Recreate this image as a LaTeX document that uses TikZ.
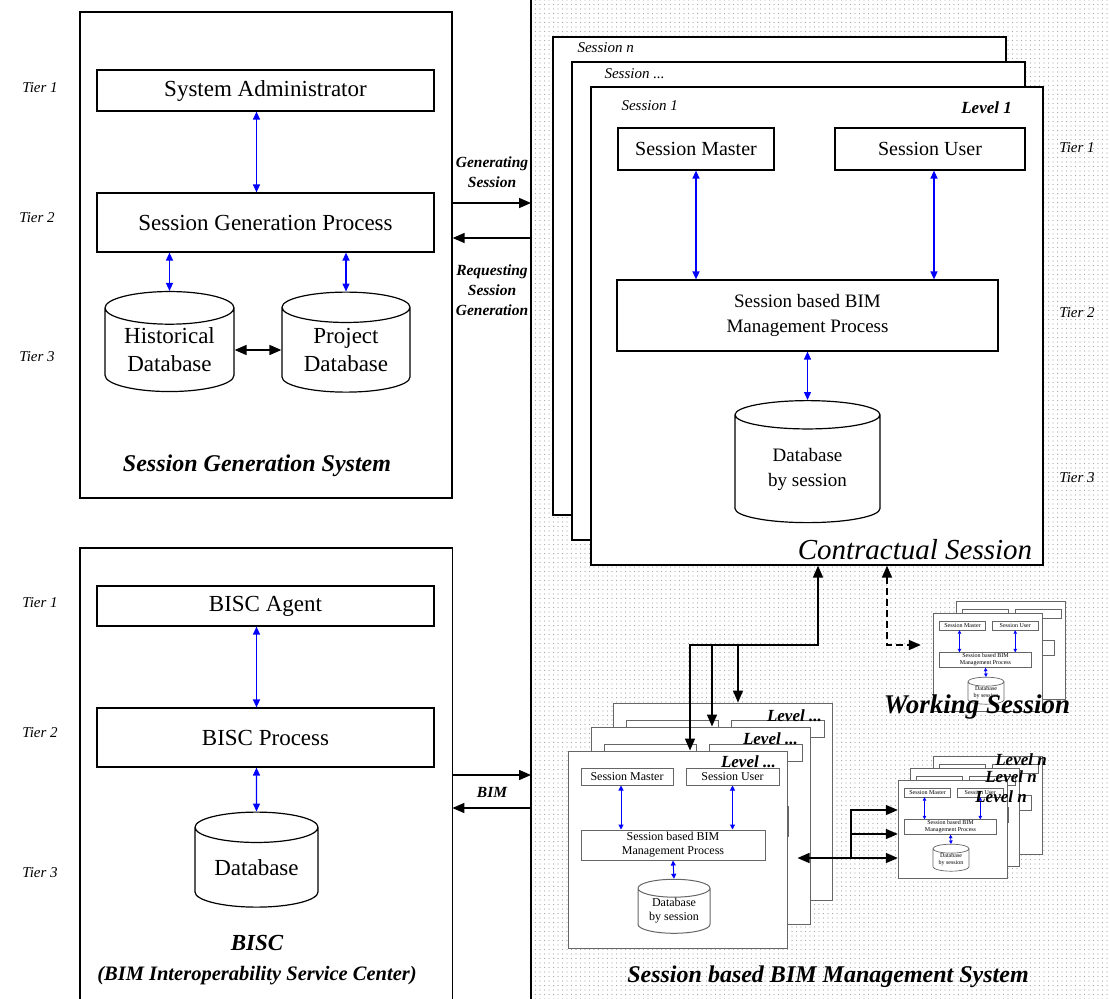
\documentclass[tikz,border=0pt]{standalone}
\usepackage{fontspec}
\setmainfont{Liberation Serif}
\usetikzlibrary{arrows.meta,shapes.geometric,patterns.meta,calc}

\newcommand{\fs}[2]{\fontsize{#1}{#2}\selectfont}
\newcommand{\lvlshow}[1]{#1}
\newcommand{\lvlhide}[1]{}
% one level box of a session, top left corner at #2, scaled by #3
\newcommand{\lvlbox}[5]{%
  \begin{scope}[shift={#2},scale=#3,transform shape,lvlline/.style={line width=#4}]
    \node[lvlframe] (#1) at (109.5,98.5) {};
    \node[lvlcell] (#1-sm) at (59,25.5) {#5{Session Master}};
    \node[lvlcell, minimum width=93pt] (#1-su) at (164.5,25.5) {#5{Session User}};
    \node[lvlcell, minimum width=184pt, minimum height=30pt] (#1-proc) at (105,94)
      {#5{Session based BIM\\Management Process}};
    \node[lvldb] (#1-db) at (106,160) {#5{Database\\by session}};
    \draw[lvlarr] ([xshift=-6pt]#1-sm.south) -- ([xshift=-6pt]#1-sm.south |- #1-proc.north);
    \draw[lvlarr] (#1-su.south) -- (#1-su.south |- #1-proc.north);
    \draw[lvlarr] (#1-proc.south) -- (#1-db.north);
  \end{scope}}

\begin{document}
\begin{tikzpicture}[x=1pt,y=-1pt,
    frame/.style={draw, line width=1.3pt, fill=white, inner sep=0pt},
    cell/.style={draw, line width=1.2pt, fill=white, inner sep=0pt, align=center,
      font=\fs{23}{27}},
    db/.style={cylinder, shape border rotate=90, aspect=0.36, draw, line width=1.2pt,
      fill=white, align=center, inner sep=0pt},
    tier/.style={font=\itshape\fs{15}{18}},
    lbl/.style={font=\bfseries\itshape\fs{15.5}{20}, align=center},
    title/.style={font=\bfseries\itshape\fs{24}{28}},
    bluearr/.style={blue, line width=1.3pt,
      {Triangle[length=8pt,width=7pt]}-{Triangle[length=8pt,width=7pt]}},
    blkarr/.style={line width=1.6pt, -{Triangle[length=12pt,width=10pt]}},
    dblarr/.style={line width=1.6pt,
      {Triangle[length=12pt,width=10pt]}-{Triangle[length=12pt,width=10pt]}},
    lvlframe/.style={draw=black!60, lvlline, fill=white, minimum width=219pt,
      minimum height=197pt, inner sep=0pt},
    lvlcell/.style={draw=black!60, lvlline, fill=white, minimum width=92pt,
      minimum height=17pt, inner sep=0pt, align=center, font=\fs{12}{14}},
    lvldb/.style={db, draw=black!60, lvlline, minimum width=72pt, minimum height=54pt,
      font=\fs{12}{14}},
    lvlarr/.style={blue, lvlline,
      {Triangle[length=0pt 5,width=0pt 5]}-{Triangle[length=0pt 5,width=0pt 5]}},
    lvllabel/.style={font=\bfseries\itshape\fs{17}{20}, inner sep=0pt}]
  \useasboundingbox (0,0) rectangle (1109,999);

  % Session based BIM Management System (dotted area)
  \node[minimum width=578pt, minimum height=999pt, inner sep=0pt, anchor=north west,
    pattern={Dots[distance=4.5pt,radius=0.55pt]}, pattern color=black!35] (sbms) at (531,0) {};
  \draw[line width=1.3pt] (sbms.north west) -- (sbms.south west);

  % Session Generation System
  \node[frame, minimum width=372pt, minimum height=486pt] (sgs) at (266,255) {};
  \node[cell, minimum width=337pt, minimum height=41pt] (admin) at (265.5,90.5)
    {System Administrator};
  \node[cell, minimum width=337pt, minimum height=59pt] (sgp) at (265.5,222.5)
    {Session Generation Process};
  \node[db, minimum width=129pt, minimum height=100pt, font=\fs{23}{28}] (histdb)
    at (169.5,350) {Historical\\Database};
  \node[db, minimum width=128pt, minimum height=100pt, font=\fs{23}{28}] (projdb)
    at (346,350) {Project\\Database};
  \draw[bluearr] ([xshift=-9pt]admin.south) -- ([xshift=-9pt]sgp.north);
  \draw[bluearr] (histdb.north |- sgp.south) -- (histdb.north);
  \draw[bluearr] (projdb.north |- sgp.south) -- (projdb.north);
  \draw[dblarr] (histdb.east) -- (projdb.west);
  \node[title] (sgstitle) at (257,466) {Session Generation System};
  \node[tier] (tiera1) at (40,88) {Tier 1};
  \node[tier] (tiera2) at (37,218) {Tier 2};
  \node[tier] (tiera3) at (37,357) {Tier 3};

  % BISC
  \node[minimum width=372pt, minimum height=460pt, inner sep=0pt, anchor=north west]
    (bisc) at (80,548) {};
  \draw[line width=1.3pt] (bisc.south west) -- (bisc.north west) -- (bisc.north east)
    -- (bisc.south east);
  \node[cell, minimum width=337pt, minimum height=40pt] (agent) at (265.5,606) {BISC Agent};
  \node[cell, minimum width=337pt, minimum height=59pt] (bproc) at (265.5,737.5)
    {BISC Process};
  \node[db, minimum width=123pt, minimum height=95pt, font=\fs{23}{28}] (bdb)
    at (256.5,867.5) {Database};
  \draw[bluearr] ([xshift=-9pt]agent.south) -- ([xshift=-9pt]bproc.north);
  \draw[bluearr] ([xshift=-9pt]bproc.south) -- (bdb.north);
  \node[font=\bfseries\itshape\fs{23}{26}] (bisctitle) at (257,943) {BISC};
  \node[font=\bfseries\itshape\fs{20.5}{24}] (biscsub) at (257,976)
    {(BIM Interoperability Service Center)};
  \node[tier] (tierb1) at (40,603) {Tier 1};
  \node[tier] (tierb2) at (40,733) {Tier 2};
  \node[tier] (tierb3) at (40,873) {Tier 3};

  % between the two sides
  \draw[blkarr] (sgs.east |- 0,203) -- (sbms.west |- 0,203);
  \draw[blkarr] (sbms.west |- 0,238) -- (sgs.east |- 0,238);
  \node[lbl] (gen) at (492,172) {Generating\\Session};
  \node[lbl] (req) at (492,290) {Requesting\\Session\\Generation};
  \draw[blkarr] (bisc.east |- 0,775) -- (sbms.west |- 0,775);
  \draw[blkarr] (sbms.west |- 0,808) -- (bisc.east |- 0,808);
  \node[lbl] (bim) at (492,792) {BIM};

  % Contractual Session
  \node[frame, minimum width=453pt, minimum height=478pt] (sessn) at (779.5,276) {};
  \node[tier, anchor=west] at (574,48) {Session n};
  \node[frame, minimum width=453pt, minimum height=478pt] (sessd) at (798.5,301) {};
  \node[tier, anchor=west] at (601,74) {Session ...};
  \node[frame, minimum width=452pt, minimum height=478pt] (sess1) at (817,326) {};
  \node[tier, anchor=west] (s1) at (618,106) {Session 1};
  \node[lvllabel, anchor=east] (lev1) at (1012,108) {Level 1};
  \node[cell, minimum width=156pt, minimum height=42pt, font=\fs{20}{24}] (sm) at (696,149)
    {Session Master};
  \node[cell, minimum width=190pt, minimum height=42pt, font=\fs{20}{24}] (su) at (930,149)
    {Session User};
  \node[cell, minimum width=381pt, minimum height=71pt, font=\fs{19}{25}] (sbp)
    at (807.5,315.5) {Session based BIM\\Management Process};
  \node[db, minimum width=145pt, minimum height=122pt, font=\fs{19}{25}] (sdb)
    at (807.5,469) {Database\\by session};
  \draw[bluearr] (sm.south) -- (sm.south |- sbp.north);
  \draw[bluearr] ([xshift=4pt]su.south) -- ([xshift=4pt]su.south |- sbp.north);
  \draw[bluearr] (sbp.south) -- (sdb.north);
  \node[font=\itshape\fs{29}{32}] (contract) at (915,550) {Contractual Session};
  \node[tier] (tierc1) at (1077,148) {Tier 1};
  \node[tier] (tierc2) at (1077,313) {Tier 2};
  \node[tier] (tierc3) at (1077,478) {Tier 3};

  % levels below the contractual session
  \lvlbox{lvlA}{(613,703)}{1}{1pt}{\lvlhide}
  \lvlbox{lvlB}{(591,727)}{1}{1pt}{\lvlhide}
  \lvlbox{lvlC}{(568,751)}{1}{1pt}{\lvlshow}
  \node[lvllabel, anchor=east] (labA) at (822,716) {Level ...};
  \node[lvllabel, anchor=east] (labB) at (798,739) {Level ...};
  \node[lvllabel, anchor=east] (labC) at (776,762) {Level ...};

  % working session
  \lvlbox{wkA}{(956,601)}{0.5}{0.7pt}{\lvlhide}
  \lvlbox{wkB}{(933,613)}{0.5}{0.7pt}{\lvlshow}
  \node[font=\bfseries\itshape\fs{27}{30}] (working) at (977,707) {Working Session};

  % level n
  \lvlbox{lnA}{(933,756)}{0.5}{0.7pt}{\lvlhide}
  \lvlbox{lnB}{(910,768)}{0.5}{0.7pt}{\lvlhide}
  \lvlbox{lnC}{(898,780)}{0.5}{0.7pt}{\lvlshow}
  \node[lvllabel, anchor=east] (labnA) at (1047,760) {Level n};
  \node[lvllabel, anchor=east] (labnB) at (1037,777) {Level n};
  \node[lvllabel, anchor=east] (labnC) at (1027,797) {Level n};

  % connectors
  \coordinate (j1) at (690,645);
  \coordinate (j2) at (712,645);
  \coordinate (j3) at (738,645);
  \coordinate (j4) at (818,645);
  \draw[dblarr] (lvlC.north -| j1) -- (j1) -- (j4) -- (sess1.south -| j4);
  \draw[blkarr] (j2) -- (lvlB.north -| j2);
  \draw[blkarr] (j3) -- (lvlA.north -| j3);
  \coordinate (wk) at (887,645);
  \draw[dblarr, dash pattern=on 7pt off 4pt] (sess1.south -| wk) -- (wk)
    -- ($(wkB.west |- wk)+(-12,0)$);
  \coordinate (n1) at (851,810);
  \coordinate (n2) at (851,834);
  \coordinate (n3) at (851,858);
  \draw[dblarr] ($(lvlC.east |- n3)+(10,0)$) -- (lnC.west |- n3);
  \draw[blkarr] (n3) -- (n1) -- (lnC.west |- n1);
  \draw[blkarr] (n2) -- (lnC.west |- n2);

  \node[title] (sbmstitle) at (828,977) {Session based BIM Management System};
\end{tikzpicture}
\end{document}
